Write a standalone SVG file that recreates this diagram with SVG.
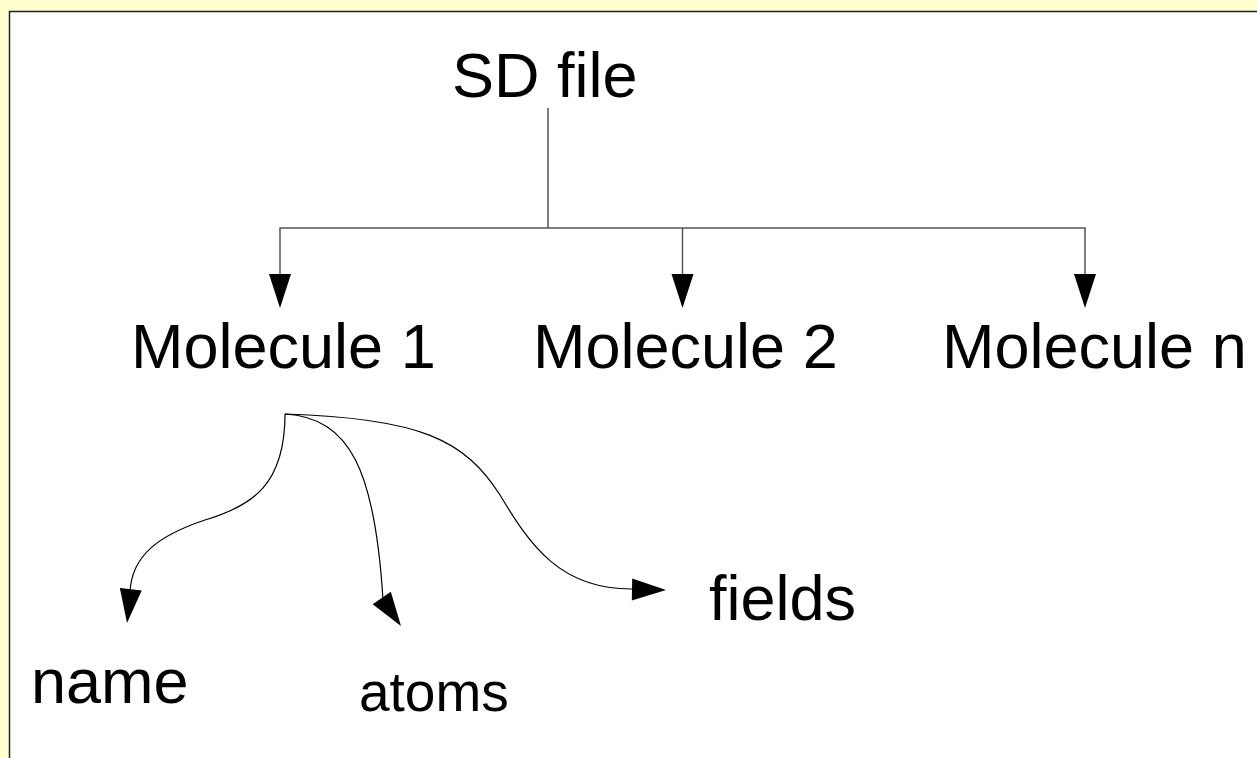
<svg xmlns="http://www.w3.org/2000/svg" width="1257" height="758" viewBox="0 0 1257 758">
  <style>
    .lbl { font-family: "Liberation Sans", Arial, sans-serif; font-size: 63px; fill: #000; }
    .small { font-size: 55px; }
    .tree { fill: none; stroke: #555; stroke-width: 1.5; }
    .curve { fill: none; stroke: #000; stroke-width: 1.2; }
    .head { fill: #000; }
  </style>
  <defs>
    <path id="ah" class="head" d="M0,0 L-34,-11 L-34,11 Z"/>
  </defs>
  <rect x="0" y="0" width="1257" height="758" fill="#FFFFCC"/>
  <rect x="10" y="12" width="1247" height="746" fill="#FFFFFF"/>
  <path d="M9.5,758 V11.5 H1257" fill="none" stroke="#222" stroke-width="1.5"/>

  <g id="sdfile"><text class="lbl" x="452" y="97">SD file</text></g>
  <g id="molecule1"><text class="lbl" x="131" y="368">Molecule 1</text></g>
  <g id="molecule2"><text class="lbl" x="533" y="368">Molecule 2</text></g>
  <g id="moleculen"><text class="lbl" x="942" y="368">Molecule n</text></g>
  <g id="name"><text class="lbl" x="31" y="703">name</text></g>
  <g id="atoms"><text class="lbl small" x="359" y="711">atoms</text></g>
  <g id="fields"><text class="lbl" x="709" y="620">fields</text></g>

  <g id="connectors">
    <path class="tree" d="M548,108 V228"/>
    <path class="tree" d="M280,276 V228 H1085 V276"/>
    <path class="tree" d="M682.5,228 V276"/>
    <use href="#ah" transform="translate(280,308) rotate(90)"/>
    <use href="#ah" transform="translate(682.5,308) rotate(90)"/>
    <use href="#ah" transform="translate(1085,308) rotate(90)"/>

    <path class="curve" d="M285,414 C285,485 252,506 205,520 C160,535 131,555 130,593"/>
    <use href="#ah" transform="translate(127,623) rotate(96.4)"/>

    <path class="curve" d="M285,414 C350,418 375,470 383,600"/>
    <use href="#ah" transform="translate(401,626) rotate(55.5)"/>

    <path class="curve" d="M285,414 C420,418 465,440 500,495 C530,545 560,590 634,589"/>
    <use href="#ah" transform="translate(666,590) rotate(1)"/>
  </g>
</svg>
